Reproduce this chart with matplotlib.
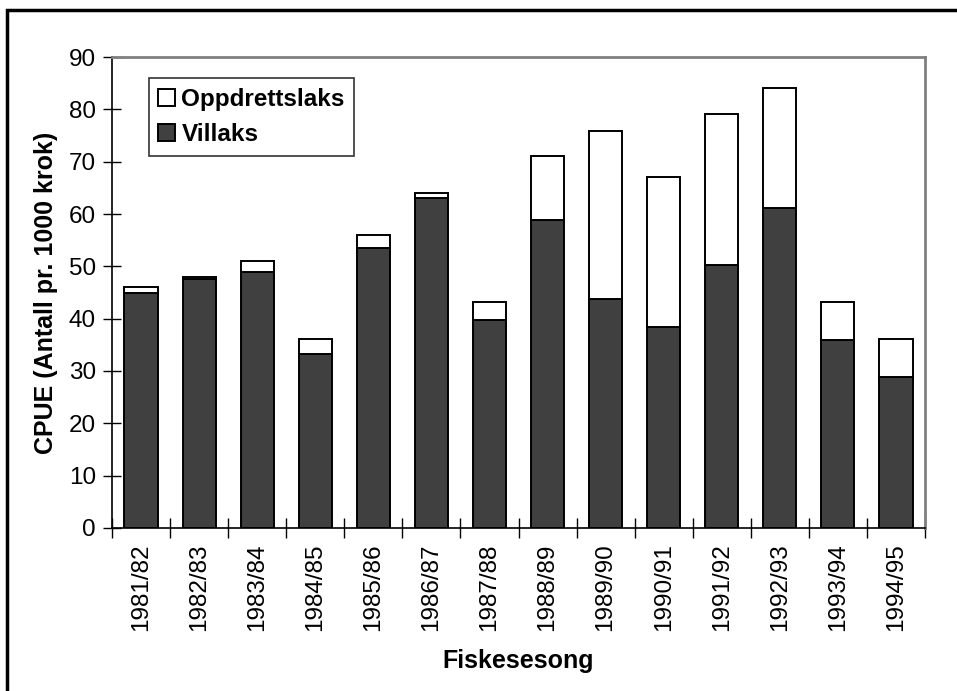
import numpy as np
import matplotlib
matplotlib.use('Agg')
import matplotlib.pyplot as plt
from matplotlib.patches import Rectangle

plt.rcParams['font.family'] = ['Liberation Sans', 'DejaVu Sans']

# data
seasons = ['1981/82', '1982/83', '1983/84', '1984/85', '1985/86', '1986/87', '1987/88',
           '1988/89', '1989/90', '1990/91', '1991/92', '1992/93', '1993/94', '1994/95']
villaks = [45.0, 47.5, 49.0, 33.2, 53.5, 63.1, 39.7, 58.9, 43.7, 38.5, 50.3, 61.1, 35.9, 28.9]
totals = [46.0, 48.0, 51.0, 36.2, 55.9, 64.1, 43.1, 71.0, 75.9, 67.0, 79.2, 84.1, 43.1, 36.2]
oppdrett = [t - v for t, v in zip(totals, villaks)]

fig = plt.figure(figsize=(9.57, 6.91), dpi=100)
ax = fig.add_axes([0.117, 0.2359, 0.8496, 0.6816])

x = np.arange(len(seasons))
w = 0.57
ax.bar(x, villaks, w, color='#404040', edgecolor='black', linewidth=1.4, label='Villaks', zorder=3)
ax.bar(x, oppdrett, w, bottom=villaks, color='white', edgecolor='black', linewidth=1.4,
       label='Oppdrettslaks', zorder=3)

ax.set_xlim(-0.5, len(seasons) - 0.5)
ax.set_ylim(0, 90)
ax.set_yticks(np.arange(0, 91, 10))
ax.set_xticks(np.arange(-0.5, len(seasons), 1.0))
ax.set_xticklabels([])
ax.set_xticks(x, minor=True)
ax.set_xticklabels(seasons, minor=True, rotation=90, fontsize=17.5)
ax.tick_params(axis='x', which='minor', length=0, pad=11)
ax.tick_params(axis='x', which='major', direction='inout', length=14, width=1)
ax.tick_params(axis='y', direction='inout', length=13, width=1, labelsize=17.5, pad=5)

for s in ['top', 'right']:
    ax.spines[s].set_color('#808080')
    ax.spines[s].set_linewidth(2)
ax.spines['left'].set_linewidth(1.2)
ax.spines['bottom'].set_linewidth(1.2)

ax.set_xlabel('Fiskesesong', fontsize=18, fontweight='bold', labelpad=13)
ax.set_ylabel('CPUE (Antall pr. 1000 krok)', fontsize=18, fontweight='bold', labelpad=8)

h, l = ax.get_legend_handles_labels()
leg = ax.legend(h[::-1], l[::-1], loc='upper left', bbox_to_anchor=(0.045, 0.955),
                prop={'weight': 'bold', 'size': 17.5}, frameon=True, fancybox=False,
                edgecolor='black', handlelength=0.7, handleheight=0.7, handletextpad=0.25,
                borderpad=0.4, labelspacing=0.5, borderaxespad=0)
leg.get_frame().set_linewidth(1.2)

# outer frame of the chart (right and bottom edges fall outside the image)
fig.patches.append(Rectangle((7 / 957, -0.1), 1.2, 1 - 10 / 691 + 0.1, transform=fig.transFigure,
                             fill=False, edgecolor='black', linewidth=2.5))

fig.savefig('out.png', dpi=100)
